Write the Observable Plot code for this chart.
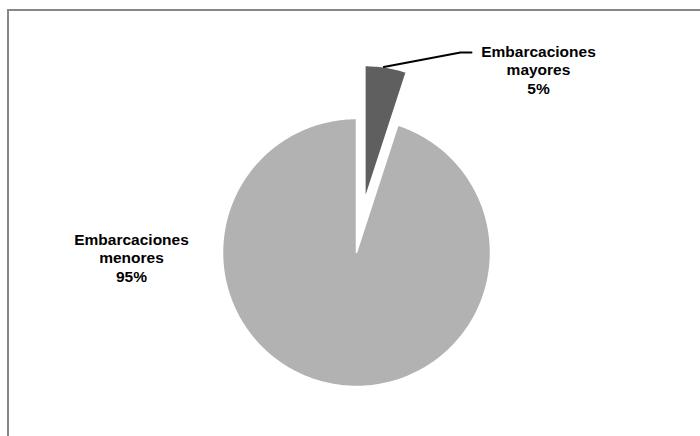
<!DOCTYPE html>
<html><head><meta charset="utf-8">
<script src="https://cdn.jsdelivr.net/npm/d3@7"></script>
<script src="https://cdn.jsdelivr.net/npm/@observablehq/plot@0.6"></script>
<style>
html,body{margin:0;padding:0;background:#fff;}
#wrap{position:relative;width:700px;height:436px;overflow:hidden;}
#border{position:absolute;left:7px;top:9px;width:800px;height:600px;border-left:2px solid #878787;border-top:2px solid #878787;pointer-events:none;}
#chart{position:absolute;left:0;top:0;}
</style></head><body>
<div id="wrap"><div id="chart"></div><div id="border"></div></div>
<script>
// ---- data ----
const categories = ["Embarcaciones mayores", "Embarcaciones menores"];
const labelNames = ["Embarcaciones\nmayores", "Embarcaciones\nmenores"];
const shares = [5, 95];

// ---- styling / layout (kept separate from data) ----
const sliceColors = ["#5f5f5f", "#b2b2b2"];
const explode = [0.40, 0];              // fraction of radius
const labelPos = [[1.358, 1.366], [-1.679, -0.037]]; // in radius units
const leaderElbow = [[0.776, 1.493], [0.858, 1.493]];
const cx = 356, cy = 252, R = 134;

const pie = d3.pie().sort(null).value(d => d)(shares);

const polys = [];
pie.forEach((p, i) => {
  const mid = (p.startAngle + p.endAngle) / 2;
  const ox = explode[i] * Math.sin(mid), oy = explode[i] * Math.cos(mid);
  polys.push({cat: categories[i], x: ox, y: oy, k: 0});
  const n = Math.max(4, Math.ceil((p.endAngle - p.startAngle) / (Math.PI / 180)));
  for (let j = 0; j <= n; j++) {
    const a = p.startAngle + (p.endAngle - p.startAngle) * j / n;
    polys.push({cat: categories[i], x: ox + Math.sin(a), y: oy + Math.cos(a), k: j + 1});
  }
  polys.push({cat: categories[i], x: ox, y: oy, k: n + 2});
});

// leader line from mayores slice outer arc to its label
const p0 = pie[0];
const mid0 = (p0.startAngle + p0.endAngle) / 2;
const lead0 = (p0.startAngle * 0.55 + p0.endAngle * 0.45);
const leader = [
  {x: explode[0] * Math.sin(mid0) + Math.sin(lead0), y: explode[0] * Math.cos(mid0) + Math.cos(lead0)},
  {x: leaderElbow[0][0], y: leaderElbow[0][1]},
  {x: leaderElbow[1][0], y: leaderElbow[1][1]}
];

const labels = pie.map((p, i) => ({
  text: `${labelNames[i]}\n${shares[i]}%`,
  x: labelPos[i][0], y: labelPos[i][1]
}));

const chart = Plot.plot({
  width: 700, height: 436,
  margin: 0,
  style: {fontFamily: "'Liberation Sans', Arial, sans-serif", background: "transparent"},
  x: {domain: [-1, 1], range: [cx - R, cx + R], axis: null},
  y: {domain: [-1, 1], range: [cy + R, cy - R], axis: null},
  color: {domain: categories, range: sliceColors},
  marks: [
    Plot.line(polys, {x: "x", y: "y", z: "cat", fill: "cat", stroke: "white", strokeWidth: 1.5, curve: "linear-closed"}),
    Plot.line(leader, {x: "x", y: "y", stroke: "black", strokeWidth: 2}),
    Plot.text(labels, {x: "x", y: "y", text: "text", fontSize: 15.5, fontWeight: "bold", fill: "#000", lineHeight: 1.2, textAnchor: "middle"})
  ]
});
document.getElementById("chart").appendChild(chart);
</script>
</body></html>
